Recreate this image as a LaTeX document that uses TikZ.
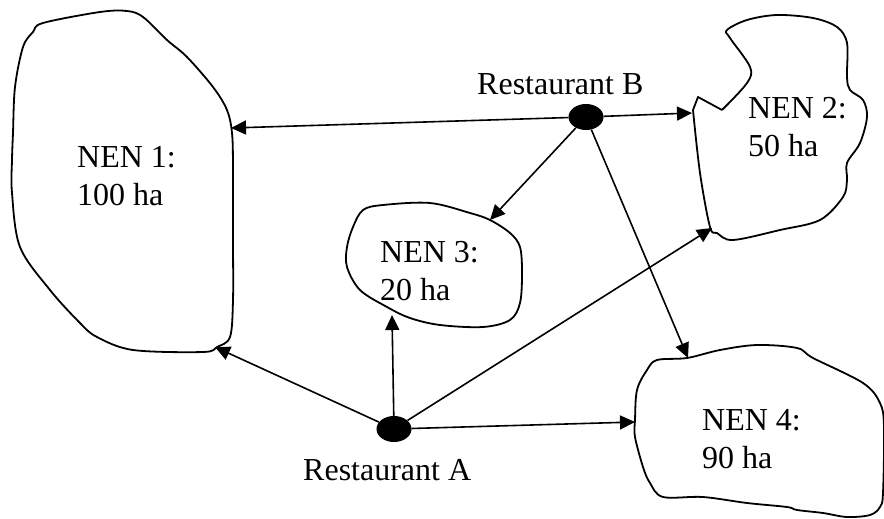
\documentclass[tikz,border=0pt]{standalone}
\usepackage{fontspec}
\setmainfont{Liberation Serif}
\usetikzlibrary{shapes.geometric,arrows.meta}
\begin{document}
\begin{tikzpicture}[x=1pt,y=-1pt,
  blob/.style={line width=1.8pt,line join=round},
  arr/.style={line width=1.6pt,-{Triangle[length=15pt,width=14pt]}},
  rest/.style={ellipse,fill=black,minimum width=35pt,minimum height=26pt,inner sep=0pt},
  lbl/.style={font=\fontsize{32}{38}\selectfont,align=left,inner sep=0pt,anchor=base west}]
\useasboundingbox (0,0) rectangle (884,519);
% NEN 1
\draw[blob] plot[smooth cycle,tension=0.55] coordinates {(33,32) (43,23) (100,12) (127,11) (143,17) (167,40) (187,57) (213,87) (227,110) (232,133) (233,167) (233,240) (233,300) (230,337) (217,347) (203,352) (133,350) (97,337) (80,323) (50,290) (20,247) (12,193) (12,160) (13,133) (15,87) (23,47)};
% NEN 2
\draw[blob] (693,110) -- (698,97) -- (722,110) plot[smooth,tension=0.55] coordinates {(722,110) (747,83) (750,67) (730,38) (727,30) (747,20) (777,15) (813,18) (837,27) (847,43) (847,77) (850,90) (863,100) (867,117) (860,143) (847,163) (847,180) (843,197) (820,220) (780,230) (733,240) (717,233) (710,227) (700,173) (693,110)};
% NEN 3
\draw[blob] plot[smooth cycle,tension=0.55] coordinates {(363,210) (383,205) (430,203) (470,213) (490,220) (510,233) (520,247) (522,273) (520,303) (510,320) (483,327) (440,325) (410,318) (387,307) (360,290) (347,267) (347,247) (353,227)};
% NEN 4
\draw[blob] plot[smooth cycle,tension=0.55] coordinates {(657,360) (687,358) (720,350) (757,345) (797,348) (813,358) (863,383) (880,403) (884,427) (883,493) (880,507) (870,515) (847,517) (823,513) (797,510) (787,507) (747,503) (703,497) (663,497) (650,483) (643,467) (635,437) (635,420) (637,390) (647,370)};
% texts (anchored at the baseline of the last line)
\node[lbl] (t1) at (77,205) {NEN 1:\\100 ha};
\node[lbl] (t2) at (748,156) {NEN 2:\\50 ha};
\node[lbl] (t3) at (380,300) {NEN 3:\\20 ha};
\node[lbl] (t4) at (702,468) {NEN 4:\\90 ha};
\node[lbl] (lb) at (477,95) {Restaurant B};
\node[lbl] (la) at (303,480) {Restaurant A};
% restaurants
\node[rest] (B) at (586,117) {};
\node[rest] (A) at (394,429) {};
% arrow targets
\coordinate (n1b) at (231,128);
\coordinate (n1a) at (215,347);
\coordinate (n2b) at (692,113);
\coordinate (n2a) at (712,228);
\coordinate (n3b) at (490,220);
\coordinate (n3a) at (392,315);
\coordinate (n4b) at (688,358);
\coordinate (n4a) at (635,422);
\draw[arr] (B) -- (n1b);
\draw[arr] (B) -- (n2b);
\draw[arr] (B) -- (n3b);
\draw[arr] (B) -- (n4b);
\draw[arr] (A) -- (n1a);
\draw[arr] (A) -- (n2a);
\draw[arr] (A) -- (n3a);
\draw[arr] (A) -- (n4a);
\end{tikzpicture}
\end{document}
